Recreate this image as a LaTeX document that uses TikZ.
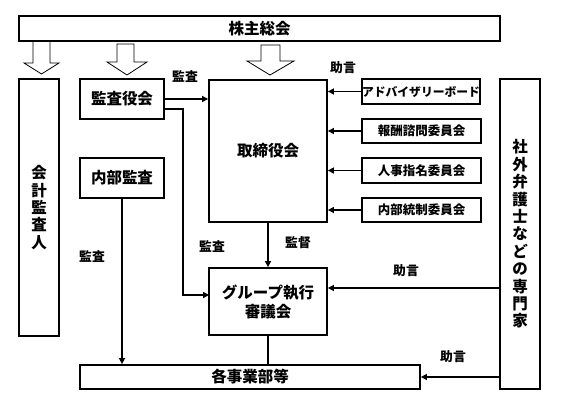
\documentclass[tikz,border=0pt]{standalone}
\usepackage{fontspec}
\setmainfont{Noto Sans CJK JP}
\usepackage{tikz}
\usetikzlibrary{arrows.meta}

\begin{document}
\begin{tikzpicture}[x=1pt, y=-1pt, line width=1.8pt,
	every node/.style={font=\bfseries\fontsize{15.5}{17.4}\selectfont, inner sep=0pt},
	box/.style={draw, align=center},
	lbl/.style={font=\bfseries\fontsize{12.8}{14}\selectfont},
	cmt/.style={font=\bfseries\fontsize{12.5}{14}\selectfont},
	arr/.style={-{Triangle[length=6pt,width=6pt]}},
	bigarrow/.style={draw, line width=0.8pt, fill=white}]
	\useasboundingbox (0,0) rectangle (566,419);
	
	% block arrows from the top bar
	\draw[bigarrow] (33,41) -- (50,41) -- (50,63) -- (59,63) -- (41.5,74) -- (24,63) -- (33,63) -- cycle;
	\draw[bigarrow] (117,44) -- (134,44) -- (134,62) -- (147,62) -- (127,75) -- (107,62) -- (117,62) -- cycle;
	\draw[bigarrow] (261,45) -- (280,45) -- (280,61) -- (294,61) -- (270,75) -- (247,61) -- (261,61) -- cycle;
	
	\node[box, minimum width=481pt, minimum height=25pt] (kabunushi) at (259.5,28.5) {株主総会};
	\node[box, minimum width=40pt, minimum height=257pt] (kaikei) at (39,207.5) {会\\計\\監\\査\\人};
	\node[box, minimum width=84pt, minimum height=40pt] (kansayaku) at (122,99) {監査役会};
	\node[box, minimum width=84pt, minimum height=40pt] (naibu) at (122,178) {内部監査};
	\node[box, minimum width=118pt, minimum height=142pt] (torishimari) at (268,151) {取締役会};
	\node[box, minimum width=118pt, minimum height=67pt, font=\bfseries\fontsize{15.5}{19}\selectfont] (group) at (268,301.5) {グループ執行\\審議会};
	\node[box, minimum width=340pt, minimum height=24pt] (jigyo) at (250,377) {各事業部等};
	\node[box, minimum width=40pt, minimum height=310pt] (senmon) at (520,234) {社\\外\\弁\\護\\士\\な\\ど\\の\\専\\門\\家};
	
	\node[box, cmt, minimum width=118pt, minimum height=25pt, font=\bfseries\fontsize{11.8}{14}\selectfont] (advisory) at (421,91.5) {アドバイザリーボード};
	\node[box, cmt, minimum width=119pt, minimum height=24pt] (hoshu) at (421.5,131) {報酬諮問委員会};
	\node[box, cmt, minimum width=119pt, minimum height=25pt] (jinji) at (421.5,170.5) {人事指名委員会};
	\node[box, cmt, minimum width=119pt, minimum height=24pt] (tosei) at (421.5,210) {内部統制委員会};
	
	\node[lbl] (l1) at (185,77) {監査};
	\node[lbl] (l2) at (343,68) {助言};
	\node[lbl] (l3) at (212,247) {監査};
	\node[lbl] (l4) at (298,243) {監督};
	\node[lbl] (l5) at (92,257) {監査};
	\node[lbl] (l6) at (406,271) {助言};
	\node[lbl] (l7) at (453,357) {助言};
	
	\coordinate (k2) at (164,109);
	\coordinate (g2) at (209,295);
	\coordinate (s1) at (500,288);
	
	\draw[arr] (kansayaku.east) -- (kansayaku.east -| torishimari.west);
	\draw[arr] (k2) -- (183,109) -- (183,295) -- (g2);
	\draw[arr] (advisory.west) -- (advisory.west -| torishimari.east);
	\draw[arr] (hoshu.west) -- (hoshu.west -| torishimari.east);
	\draw[arr] (jinji.west) -- (jinji.west -| torishimari.east);
	\draw[arr] (tosei.west) -- (tosei.west -| torishimari.east);
	\draw[arr] (torishimari.south) -- (group.north);
	\draw (group.south) -- (group.south |- jigyo.north);
	\draw[arr] (naibu.south) -- (naibu.south |- jigyo.north);
	\draw[arr] (s1) -- (s1 -| group.east);
	\draw[arr] (senmon.west |- jigyo.east) -- (jigyo.east);
\end{tikzpicture}
\end{document}
